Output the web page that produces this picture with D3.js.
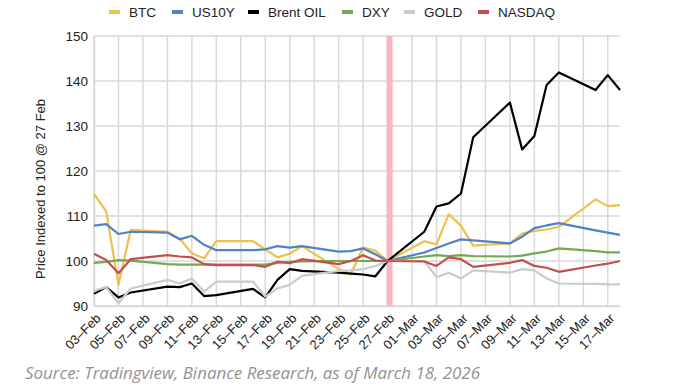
<!DOCTYPE html>
<html>
<head>
<meta charset="utf-8">
<script src="https://cdn.jsdelivr.net/npm/d3@7"></script>
<style>
body{margin:0;background:#fff;}
svg{display:block;font-family:"Liberation Sans",Arial,sans-serif;}
</style>
</head>
<body>
<div id="chart"></div>
<script>

// trading days, indexed to 100 on 27 Feb
var dates = ["2026-02-03","2026-02-04","2026-02-05","2026-02-06","2026-02-09","2026-02-10","2026-02-11","2026-02-12","2026-02-13",
  "2026-02-16","2026-02-17","2026-02-18","2026-02-19","2026-02-20","2026-02-23","2026-02-24","2026-02-25","2026-02-26","2026-02-27",
  "2026-03-02","2026-03-03","2026-03-04","2026-03-05","2026-03-06","2026-03-09","2026-03-10","2026-03-11","2026-03-12","2026-03-13",
  "2026-03-16","2026-03-17","2026-03-18"];

var btc    = [114.9,111.0,94.7,106.9,106.5,105.0,101.7,100.6,104.4, 104.4,102.6,100.8,101.6,103.3,98.2,97.1,103.0,102.3,100, 104.4,103.7,110.4,107.8,103.4,103.9,106.1,106.7,107.0,107.6,113.7,112.2,112.4];
var us10y  = [107.85,108.2,106.0,106.5,106.3,104.8,105.6,103.6,102.4, 102.4,102.6,103.3,102.96,103.3,102.1,102.2,102.8,101.5,100, 101.9,102.9,103.9,104.8,104.6,103.9,105.4,107.3,107.9,108.4,106.8,106.3,105.8];
var brent  = [92.7,94.2,91.9,93.0,94.3,94.2,95.0,92.2,92.4, 93.8,91.9,95.8,98.2,97.8,97.4,97.2,97.0,96.6,100, 106.5,112.1,112.8,115.0,127.5,135.2,124.8,127.8,139.1,141.9,138.0,141.3,138.0];
var dxy    = [99.6,99.8,100.2,100.1,99.3,99.2,99.2,99.2,99.2, 99.2,99.2,99.6,99.8,99.9,100.0,100.0,100.0,100.0,100, 101.0,101.3,101.1,101.3,101.1,101.0,101.2,101.7,102.1,102.8,102.2,101.9,101.9];
var gold   = [93.4,94.2,90.6,93.9,95.8,95.0,96.1,93.2,95.4, 95.4,92.1,93.9,94.7,96.7,97.8,97.9,98.2,98.9,100, 100.0,96.4,97.4,96.1,97.9,97.4,98.2,97.9,96.1,95.0,94.9,94.8,94.8];
var nasdaq = [101.6,100.2,97.3,100.4,101.3,101.0,100.8,99.3,99.1, 99.1,98.7,99.85,99.5,100.4,99.3,100.0,101.3,100.1,100, 99.9,98.9,100.8,100.4,98.7,99.6,100.2,98.9,98.5,97.6,99.0,99.4,100.0];

var seriesNames = ["BTC","US10Y","Brent OIL","DXY","GOLD","NASDAQ"];
var seriesColors = ["#ecc14d","#4f82c6","#000000","#72aa54","#cbcbcb","#c0504d"];
var seriesValues = [btc, us10y, brent, dxy, gold, nasdaq];

var xTicks = ["2026-02-03","2026-02-05","2026-02-07","2026-02-09","2026-02-11","2026-02-13","2026-02-15","2026-02-17","2026-02-19",
  "2026-02-21","2026-02-23","2026-02-25","2026-02-27","2026-03-01","2026-03-03","2026-03-05","2026-03-07","2026-03-09","2026-03-11",
  "2026-03-13","2026-03-15","2026-03-17"];
var yTicks = [90,100,110,120,130,140,150];
var markerDate = "2026-02-27";

var width = 691, height = 388;
var parse = d3.utcParse("%Y-%m-%d");
var fmt = d3.utcFormat("%d\u2013%b");

var svg = d3.select("#chart").append("svg")
    .attr("width", width)
    .attr("height", height);

var x = d3.scaleUtc()
    .domain([parse("2026-02-03"), parse("2026-03-18")])
    .range([94, 620]);
var y = d3.scaleLinear()
    .domain([90, 150])
    .range([306, 36]);

// grid
svg.append("g").selectAll("line").data(yTicks).enter().append("line")
    .attr("x1", 94).attr("x2", 620)
    .attr("y1", function(d){ return y(d); }).attr("y2", function(d){ return y(d); })
    .style("stroke", "#d9d9d9").style("stroke-width", 1.5);
svg.append("g").selectAll("line").data(xTicks).enter().append("line")
    .attr("x1", function(d){ return x(parse(d)); }).attr("x2", function(d){ return x(parse(d)); })
    .attr("y1", 36).attr("y2", 306)
    .style("stroke", "#d9d9d9").style("stroke-width", 1.5);

// 27 Feb marker
svg.append("rect")
    .attr("x", x(parse(markerDate)) - 1).attr("y", 36)
    .attr("width", 6).attr("height", 270)
    .style("fill", "#f6b7c0");

// axes
var yAxis = svg.append("g")
    .attr("transform", "translate(94,0)")
    .call(d3.axisLeft(y).tickValues(yTicks).tickSize(0).tickPadding(6));
yAxis.select(".domain").style("stroke", "#d9d9d9").style("stroke-width", 1.5);
yAxis.selectAll("text").style("font-size", "13.5px").style("fill", "#222");

var xAxis = svg.append("g")
    .attr("transform", "translate(0,306)")
    .call(d3.axisBottom(x).tickValues(xTicks.map(parse)).tickFormat(fmt).tickSize(0));
xAxis.select(".domain").style("stroke", "#d9d9d9").style("stroke-width", 1.5);
xAxis.selectAll("text")
    .style("font-size", "13px").style("fill", "#222")
    .style("text-anchor", "end")
    .attr("dx", 0).attr("dy", 0)
    .attr("transform", "translate(5,11) rotate(-45)");

svg.append("text")
    .attr("transform", "translate(45,189) rotate(-90)")
    .attr("text-anchor", "middle")
    .style("font-size", "13px").style("fill", "#222")
    .text("Price Indexed to 100 @ 27 Feb");

// lines
var line = d3.line()
    .x(function(d, i){ return x(parse(dates[i])); })
    .y(function(d){ return y(d); });

seriesValues.forEach(function(vals, k){
  svg.append("path")
    .attr("d", line(vals))
    .style("fill", "none")
    .style("stroke", seriesColors[k])
    .style("stroke-width", 2.2)
    .style("stroke-linejoin", "round");
});

// legend
var legendX = [109, 172, 248, 342, 404, 478];
var legend = svg.append("g");
seriesNames.forEach(function(n, k){
  legend.append("rect")
    .attr("x", legendX[k]).attr("y", 10)
    .attr("width", 11).attr("height", 4)
    .style("fill", seriesColors[k]);
  legend.append("text")
    .attr("x", legendX[k] + 20).attr("y", 17)
    .style("font-size", "13.5px").style("fill", "#222")
    .text(n);
});

svg.append("text")
    .attr("x", 25).attr("y", 379)
    .attr("textLength", 455)
    .attr("lengthAdjust", "spacingAndGlyphs")
    .style("font-family", "'Open Sans', sans-serif")
    .style("font-style", "italic")
    .style("font-size", "15.5px")
    .style("fill", "#939393")
    .text("Source: Tradingview, Binance Research, as of March 18, 2026");

</script>
</body>
</html>
